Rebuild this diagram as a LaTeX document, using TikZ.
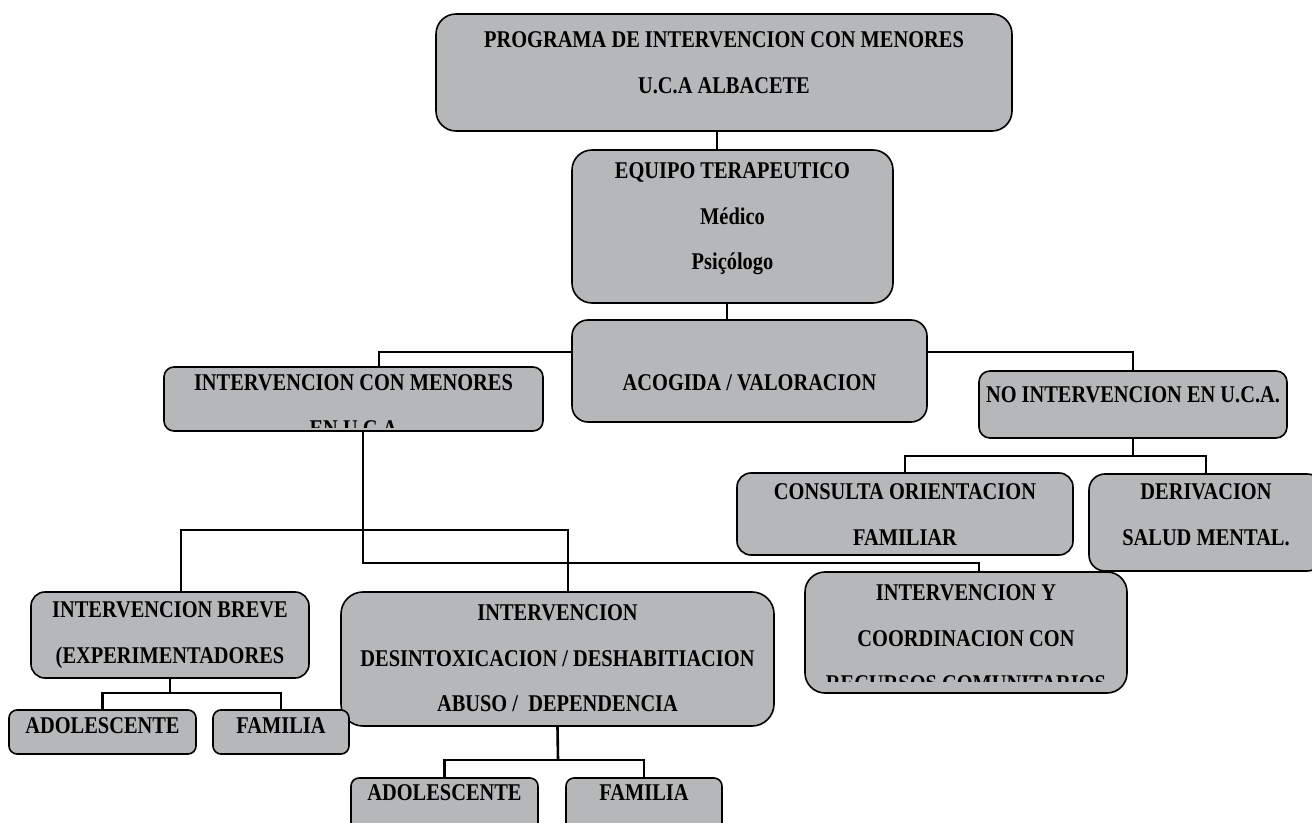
\documentclass[tikz,border=0pt]{standalone}
\usepackage{fontspec}
\setmainfont{Liberation Serif}[FakeStretch=0.85]
\usetikzlibrary{calc}
\definecolor{cajagris}{RGB}{182,183,185}
\tikzset{
  caja/.style={draw=black, line width=0.8pt, fill=cajagris, inner sep=0pt},
  texto/.style={align=center, font=\fontsize{12}{22.75}\selectfont\bfseries, inner sep=0pt},
  linea/.style={line width=1.3pt}
}
\def\caja(#1,#2,#3,#4,#5,#6){
  \node[caja, minimum width=#4, minimum height=#5, rounded corners=#6] (#1) at (#2,#3) {};
}
\def\texto(#1,#2,#3){
  \node[texto, anchor=north] (#1_t) at ([yshift=-#2]#1.north) {#3};
}
\begin{document}
\begin{tikzpicture}[x=0.5pt, y=-0.5pt]
\clip (0,0) rectangle (1312,823);
\caja(prog,724,72.5,288pt,58.5pt,10pt)
\caja(equipo,732.5,226.5,160.5pt,76.5pt,10pt)
\caja(acogida,749.5,371,177.5pt,51pt,8pt)
\caja(menores,353.5,399,189.5pt,32pt,5pt)
\caja(noint,1133,404.5,154pt,33.5pt,5.5pt)
\caja(consulta,905,514,168pt,41pt,7pt)
\caja(deriv,1206,522.5,117pt,48.5pt,8pt)
\caja(recursos,966,632.5,161pt,60.5pt,10pt)
\caja(breve,170,635,139pt,43pt,7pt)
\caja(desintox,557.5,659,216.5pt,67pt,11pt)
\caja(adol1,102.5,732,93.5pt,22pt,4pt)
\caja(fam1,281,732,68pt,22pt,4pt)
\caja(adol2,444.5,805,93.5pt,27pt,4pt)
\caja(fam2,644,805,78pt,27pt,4pt)

\texto(prog,9.1pt,PROGRAMA DE INTERVENCION CON MENORES\\U.C.A ALBACETE)
\texto(equipo,6.6pt,EQUIPO TERAPEUTICO\\Médico\\Psiçólogo)
\texto(acogida,27.6pt,ACOGIDA / VALORACION)
\texto(noint,8.1pt,NO INTERVENCION EN U.C.A.)
\texto(consulta,5.6pt,CONSULTA ORIENTACION\\FAMILIAR)
\texto(deriv,5.1pt,DERIVACION\\SALUD MENTAL.)
\texto(breve,5.1pt,INTERVENCION BREVE\\(EXPERIMENTADORES)
\texto(desintox,6.6pt,INTERVENCION\\DESINTOXICACION / DESHABITIACION\\ABUSO /~ DEPENDENCIA)
\texto(adol1,4.1pt,ADOLESCENTE)
\texto(fam1,4.1pt,FAMILIA)
\texto(adol2,3.6pt,ADOLESCENTE)
\texto(fam2,3.6pt,FAMILIA)
\begin{scope}
  \clip ([yshift=2pt]menores.south west) rectangle (menores.north east);
  \texto(menores,4.1pt,INTERVENCION CON MENORES\\EN U.C.A)
\end{scope}
\begin{scope}
  \clip ([yshift=6pt]recursos.south west) rectangle (recursos.north east);
  \texto(recursos,6.6pt,INTERVENCION Y\\COORDINACION CON\\RECURSOS COMUNITARIOS)
\end{scope}

\coordinate (nbar) at (1133,456);
\coordinate (mbar) at (363,530);
\coordinate (bbar) at (170,693);
\coordinate (dbar) at (558,760);
\draw[linea] ([xshift=-3.5pt]prog.south) -- ([xshift=-3.5pt]prog.south |- equipo.north);
\draw[linea] ([xshift=-2.75pt]equipo.south) -- ([xshift=-2.75pt]equipo.south |- acogida.north);
\draw[linea] ([yshift=9.5pt]acogida.west) -| ([xshift=12.75pt]menores.north);
\draw[linea] ([yshift=9.5pt]acogida.east) -| (noint.north);
\draw[linea] (noint.south) -- (nbar);
\draw[linea] (consulta.north) |- (nbar) -| (deriv.north);
\draw[linea] ([xshift=4.75pt]menores.south) -- ++(0,131) -| ([xshift=6.5pt]recursos.north);
\draw[linea] ([xshift=5.5pt]breve.north) |- (mbar) -| ([xshift=5.25pt]desintox.north);
\draw[linea] (breve.south) -- (bbar);
\draw[linea] (adol1.north) |- (bbar) -| (fam1.north);
\draw[linea] (desintox.south) -- (dbar);
\draw[linea] (adol2.north) |- (dbar) -| (fam2.north);
\end{tikzpicture}
\end{document}
